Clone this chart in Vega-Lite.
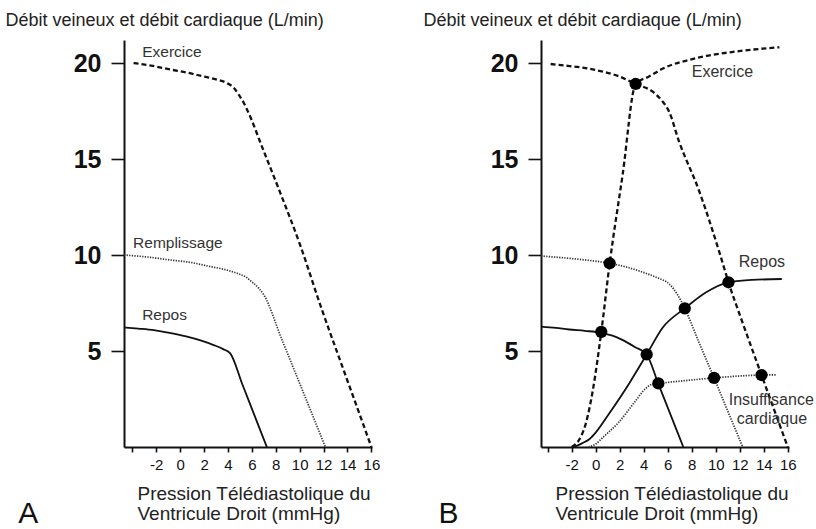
{
  "$schema": "https://vega.github.io/schema/vega-lite/v6.json",
  "background": "white",
  "padding": {"left": 5, "top": 11, "right": 0, "bottom": 0},
  "autosize": {"type": "pad"},
  "bounds": "flush",
  "spacing": 169,
  "config": {
    "font": "Liberation Sans",
    "view": {"stroke": null},
    "axis": {"grid": false, "domainColor": "#111", "domainWidth": 2, "tickColor": "#111", "tickWidth": 1.6, "labelColor": "#111", "titleColor": "#222", "titleFontWeight": "normal"}
  },
  "datasets": {
    "courbesA": [
      {"courbe": "Repos", "x": -4.7, "y": 6.23}, {"courbe": "Repos", "x": -3.5, "y": 6.17}, {"courbe": "Repos", "x": -2.2, "y": 6.09},
      {"courbe": "Repos", "x": -1, "y": 5.96}, {"courbe": "Repos", "x": 0.5, "y": 5.76}, {"courbe": "Repos", "x": 1.7, "y": 5.55},
      {"courbe": "Repos", "x": 2.8, "y": 5.31}, {"courbe": "Repos", "x": 3.6, "y": 5.1}, {"courbe": "Repos", "x": 4.19, "y": 4.88},
      {"courbe": "Repos", "x": 5.2, "y": 3.27}, {"courbe": "Repos", "x": 6.2, "y": 1.67}, {"courbe": "Repos", "x": 7.25, "y": 0},
      {"courbe": "Remplissage", "x": -4.7, "y": 10.0}, {"courbe": "Remplissage", "x": -2.8, "y": 9.9}, {"courbe": "Remplissage", "x": -0.8, "y": 9.74},
      {"courbe": "Remplissage", "x": 1, "y": 9.6}, {"courbe": "Remplissage", "x": 2.5, "y": 9.4}, {"courbe": "Remplissage", "x": 3.7, "y": 9.25},
      {"courbe": "Remplissage", "x": 4.75, "y": 9.05}, {"courbe": "Remplissage", "x": 5.5, "y": 8.85}, {"courbe": "Remplissage", "x": 6.1, "y": 8.55},
      {"courbe": "Remplissage", "x": 6.6, "y": 8.25}, {"courbe": "Remplissage", "x": 7.0, "y": 7.92}, {"courbe": "Remplissage", "x": 8.5, "y": 5.61},
      {"courbe": "Remplissage", "x": 10, "y": 3.31}, {"courbe": "Remplissage", "x": 12.15, "y": 0},
      {"courbe": "Exercice", "x": -3.9, "y": 20.0}, {"courbe": "Exercice", "x": -2.3, "y": 19.85}, {"courbe": "Exercice", "x": -0.8, "y": 19.66},
      {"courbe": "Exercice", "x": 0.6, "y": 19.5}, {"courbe": "Exercice", "x": 1.95, "y": 19.3}, {"courbe": "Exercice", "x": 3, "y": 19.15},
      {"courbe": "Exercice", "x": 3.9, "y": 18.96}, {"courbe": "Exercice", "x": 4.5, "y": 18.7}, {"courbe": "Exercice", "x": 4.9, "y": 18.35},
      {"courbe": "Exercice", "x": 5.3, "y": 17.95}, {"courbe": "Exercice", "x": 5.6, "y": 17.57}, {"courbe": "Exercice", "x": 7, "y": 15.4},
      {"courbe": "Exercice", "x": 8.4, "y": 13.2}, {"courbe": "Exercice", "x": 10.05, "y": 10.5}, {"courbe": "Exercice", "x": 11.75, "y": 7.35},
      {"courbe": "Exercice", "x": 14, "y": 3.45}, {"courbe": "Exercice", "x": 16, "y": 0}
    ],
    "etiquettesA": [
      {"texte": "Exercice", "x": -3.18, "y": 20.6},
      {"texte": "Remplissage", "x": -3.94, "y": 10.63},
      {"texte": "Repos", "x": -3.18, "y": 6.88}
    ],
    "panneauA": [{"texte": "A", "x": -13.54, "y": -3.95}],
    "courbesB": [
      {"courbe": "RV repos", "x": -4.55, "y": 6.27}, {"courbe": "RV repos", "x": -3.3, "y": 6.2}, {"courbe": "RV repos", "x": -2.2, "y": 6.12},
      {"courbe": "RV repos", "x": -0.9, "y": 6.05}, {"courbe": "RV repos", "x": 0.47, "y": 5.95}, {"courbe": "RV repos", "x": 1.4, "y": 5.8},
      {"courbe": "RV repos", "x": 2.22, "y": 5.58}, {"courbe": "RV repos", "x": 3.3, "y": 5.2}, {"courbe": "RV repos", "x": 4.25, "y": 4.82},
      {"courbe": "RV repos", "x": 5.22, "y": 3.29}, {"courbe": "RV repos", "x": 6.2, "y": 1.74}, {"courbe": "RV repos", "x": 7.3, "y": 0},
      {"courbe": "FC repos", "x": -1.8, "y": 0}, {"courbe": "FC repos", "x": -1.1, "y": 0.2}, {"courbe": "FC repos", "x": -0.5, "y": 0.42},
      {"courbe": "FC repos", "x": 0, "y": 0.75}, {"courbe": "FC repos", "x": 1.1, "y": 1.72}, {"courbe": "FC repos", "x": 2.78, "y": 3.3},
      {"courbe": "FC repos", "x": 4.25, "y": 4.82}, {"courbe": "FC repos", "x": 5.56, "y": 6.2}, {"courbe": "FC repos", "x": 7.42, "y": 7.22},
      {"courbe": "FC repos", "x": 9.17, "y": 8.05}, {"courbe": "FC repos", "x": 11.06, "y": 8.58}, {"courbe": "FC repos", "x": 13, "y": 8.7},
      {"courbe": "FC repos", "x": 15.5, "y": 8.75},
      {"courbe": "RV remplissage", "x": -4.55, "y": 9.95}, {"courbe": "RV remplissage", "x": -2.6, "y": 9.85}, {"courbe": "RV remplissage", "x": -0.83, "y": 9.74},
      {"courbe": "RV remplissage", "x": 1.17, "y": 9.57}, {"courbe": "RV remplissage", "x": 2.7, "y": 9.35}, {"courbe": "RV remplissage", "x": 4.17, "y": 9.05},
      {"courbe": "RV remplissage", "x": 5.2, "y": 8.8}, {"courbe": "RV remplissage", "x": 6.11, "y": 8.5}, {"courbe": "RV remplissage", "x": 6.8, "y": 7.95},
      {"courbe": "RV remplissage", "x": 7.42, "y": 7.22}, {"courbe": "RV remplissage", "x": 8.61, "y": 5.44}, {"courbe": "RV remplissage", "x": 9.86, "y": 3.6},
      {"courbe": "RV remplissage", "x": 11, "y": 1.87}, {"courbe": "RV remplissage", "x": 12.25, "y": 0},
      {"courbe": "FC insuffisance", "x": -0.6, "y": 0}, {"courbe": "FC insuffisance", "x": 0, "y": 0.15}, {"courbe": "FC insuffisance", "x": 0.6, "y": 0.5},
      {"courbe": "FC insuffisance", "x": 1.94, "y": 1.3}, {"courbe": "FC insuffisance", "x": 3.2, "y": 2.3}, {"courbe": "FC insuffisance", "x": 4.17, "y": 3.05},
      {"courbe": "FC insuffisance", "x": 4.7, "y": 3.27}, {"courbe": "FC insuffisance", "x": 5.22, "y": 3.31}, {"courbe": "FC insuffisance", "x": 7.5, "y": 3.46},
      {"courbe": "FC insuffisance", "x": 9.86, "y": 3.6}, {"courbe": "FC insuffisance", "x": 13.81, "y": 3.75}, {"courbe": "FC insuffisance", "x": 15, "y": 3.76},
      {"courbe": "RV exercice", "x": -3.75, "y": 19.95}, {"courbe": "RV exercice", "x": -2.3, "y": 19.85}, {"courbe": "RV exercice", "x": -0.83, "y": 19.74},
      {"courbe": "RV exercice", "x": 0.6, "y": 19.55}, {"courbe": "RV exercice", "x": 1.94, "y": 19.31}, {"courbe": "RV exercice", "x": 3.33, "y": 18.91},
      {"courbe": "RV exercice", "x": 4.72, "y": 18.52}, {"courbe": "RV exercice", "x": 5.5, "y": 18.05}, {"courbe": "RV exercice", "x": 6.11, "y": 17.48},
      {"courbe": "RV exercice", "x": 6.94, "y": 15.92}, {"courbe": "RV exercice", "x": 8.58, "y": 13.4}, {"courbe": "RV exercice", "x": 10.3, "y": 10.15},
      {"courbe": "RV exercice", "x": 11.06, "y": 8.58}, {"courbe": "RV exercice", "x": 12.22, "y": 6.5}, {"courbe": "RV exercice", "x": 13.81, "y": 3.75},
      {"courbe": "RV exercice", "x": 16, "y": 0},
      {"courbe": "FC exercice", "x": -2, "y": 0}, {"courbe": "FC exercice", "x": -1.4, "y": 0.35}, {"courbe": "FC exercice", "x": -0.83, "y": 1.2},
      {"courbe": "FC exercice", "x": -0.25, "y": 2.9}, {"courbe": "FC exercice", "x": 0.47, "y": 6.0}, {"courbe": "FC exercice", "x": 1.17, "y": 9.57},
      {"courbe": "FC exercice", "x": 2.25, "y": 14.2}, {"courbe": "FC exercice", "x": 3.33, "y": 18.91}, {"courbe": "FC exercice", "x": 4.44, "y": 19.3},
      {"courbe": "FC exercice", "x": 5.56, "y": 19.7}, {"courbe": "FC exercice", "x": 8.33, "y": 20.25}, {"courbe": "FC exercice", "x": 11.67, "y": 20.6},
      {"courbe": "FC exercice", "x": 15.3, "y": 20.82}
    ],
    "pointsB": [
      {"x": 3.33, "y": 18.91}, {"x": 1.17, "y": 9.57}, {"x": 0.47, "y": 6.0}, {"x": 4.25, "y": 4.82}, {"x": 7.42, "y": 7.22},
      {"x": 11.06, "y": 8.58}, {"x": 5.22, "y": 3.31}, {"x": 9.86, "y": 3.6}, {"x": 13.81, "y": 3.75}
    ],
    "etiquettesB": [
      {"texte": "Exercice", "x": 8.0, "y": 19.55},
      {"texte": "Repos", "x": 11.92, "y": 9.64},
      {"texte": "Insuffisance", "x": 11.08, "y": 2.44},
      {"texte": "cardiaque", "x": 11.75, "y": 1.45}
    ],
    "panneauB": [{"texte": "B", "x": -13.08, "y": -3.95}]
  },
  "hconcat": [
    {
      "width": 248,
      "height": 407,
      "encoding": {
        "x": {"field": "x", "type": "quantitative", "scale": {"domain": [-4.7, 16.05], "nice": false, "zero": false},
          "axis": {"values": [-4, -2, 0, 2, 4, 6, 8, 10, 12, 14, 16], "labelExpr": "datum.value == -4 ? '' : '' + datum.value", "tickSize": 5, "labelPadding": 5, "labelFontSize": 15, "labelFlush": false, "labelOverlap": false,
            "title": ["Pression Télédiastolique du", "Ventricule Droit (mmHg)"], "titleFontSize": 19, "titleAlign": "left", "titleX": 13, "titleY": 37.5, "titleBaseline": "top", "titleLineHeight": 20}},
        "y": {"field": "y", "type": "quantitative", "scale": {"domain": [0, 21.2], "nice": false, "zero": false},
          "axis": {"values": [5, 10, 15, 20], "tickSize": 13, "labelPadding": 10, "labelFontSize": 25, "labelFontWeight": "bold", "labelBaseline": "middle", "labelDy": -1,
            "title": "Débit veineux et débit cardiaque (L/min)", "titleAngle": 0, "titleAlign": "left", "titleBaseline": "middle", "titleX": -119, "titleY": -20, "titleFontSize": 18}}
      },
      "layer": [
        {"data": {"name": "courbesA"}, "transform": [{"filter": {"field": "courbe", "equal": "Remplissage"}}],
          "mark": {"type": "line", "interpolate": "monotone", "color": "#333", "strokeWidth": 1.7, "strokeDash": [1.3, 1.3]}},
        {"data": {"name": "courbesA"}, "transform": [{"filter": {"field": "courbe", "equal": "Exercice"}}],
          "mark": {"type": "line", "interpolate": "monotone", "color": "#111", "strokeWidth": 2.3, "strokeDash": [5, 3]}},
        {"data": {"name": "courbesA"}, "transform": [{"filter": {"field": "courbe", "equal": "Repos"}}],
          "mark": {"type": "line", "interpolate": "monotone", "color": "#111", "strokeWidth": 1.8}},
        {"data": {"name": "etiquettesA"}, "mark": {"type": "text", "align": "left", "baseline": "middle", "fontSize": 15.5, "color": "#333"},
          "encoding": {"text": {"field": "texte"}}},
        {"data": {"name": "panneauA"}, "mark": {"type": "text", "align": "left", "baseline": "alphabetic", "fontSize": 30, "color": "#111"},
          "encoding": {"text": {"field": "texte"}}}
      ]
    },
    {
      "width": 248,
      "height": 407,
      "encoding": {
        "x": {"field": "x", "type": "quantitative", "scale": {"domain": [-4.55, 16.1], "nice": false, "zero": false},
          "axis": {"values": [-4, -2, 0, 2, 4, 6, 8, 10, 12, 14, 16], "labelExpr": "datum.value == -4 ? '' : '' + datum.value", "tickSize": 5, "labelPadding": 5, "labelFontSize": 15, "labelFlush": false, "labelOverlap": false,
            "title": ["Pression Télédiastolique du", "Ventricule Droit (mmHg)"], "titleFontSize": 19, "titleAlign": "left", "titleX": 14, "titleY": 37.5, "titleBaseline": "top", "titleLineHeight": 20}},
        "y": {"field": "y", "type": "quantitative", "scale": {"domain": [0, 21.2], "nice": false, "zero": false},
          "axis": {"values": [5, 10, 15, 20], "tickSize": 13, "labelPadding": 10, "labelFontSize": 25, "labelFontWeight": "bold", "labelBaseline": "middle", "labelDy": -1,
            "title": "Débit veineux et débit cardiaque (L/min)", "titleAngle": 0, "titleAlign": "left", "titleBaseline": "middle", "titleX": -118, "titleY": -20, "titleFontSize": 18}}
      },
      "layer": [
        {"data": {"name": "courbesB"}, "transform": [{"filter": {"field": "courbe", "oneOf": ["RV remplissage", "FC insuffisance"]}}],
          "mark": {"type": "line", "interpolate": "monotone", "color": "#333", "strokeWidth": 1.7, "strokeDash": [1.3, 1.3]},
          "encoding": {"detail": {"field": "courbe"}}},
        {"data": {"name": "courbesB"}, "transform": [{"filter": {"field": "courbe", "oneOf": ["RV exercice", "FC exercice"]}}],
          "mark": {"type": "line", "interpolate": "monotone", "color": "#111", "strokeWidth": 2.3, "strokeDash": [5, 3]},
          "encoding": {"detail": {"field": "courbe"}}},
        {"data": {"name": "courbesB"}, "transform": [{"filter": {"field": "courbe", "oneOf": ["RV repos", "FC repos"]}}],
          "mark": {"type": "line", "interpolate": "monotone", "color": "#111", "strokeWidth": 1.8},
          "encoding": {"detail": {"field": "courbe"}}},
        {"data": {"name": "pointsB"}, "mark": {"type": "point", "filled": true, "shape": "circle", "size": 150, "color": "#000", "opacity": 1}},
        {"data": {"name": "etiquettesB"}, "mark": {"type": "text", "align": "left", "baseline": "middle", "fontSize": 16, "color": "#333"},
          "encoding": {"text": {"field": "texte"}}},
        {"data": {"name": "panneauB"}, "mark": {"type": "text", "align": "left", "baseline": "alphabetic", "fontSize": 30, "color": "#111"},
          "encoding": {"text": {"field": "texte"}}}
      ]
    }
  ]
}
